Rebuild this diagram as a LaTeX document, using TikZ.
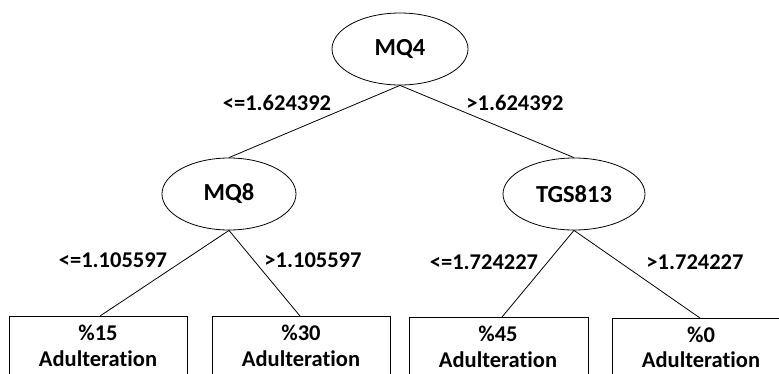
\documentclass[tikz,border=0pt]{standalone}
\usepackage{fontspec}
\setmainfont[Ligatures=NoCommon]{Carlito}
\usetikzlibrary{shapes.geometric}
\tikzset{
  split/.style={draw, ellipse, line width=0.8pt, inner sep=0pt, font=\bfseries\fontsize{24.5}{26}\selectfont},
  leafbox/.style={draw, rectangle, line width=0.8pt, anchor=north west, minimum height=70pt},
  leaftext/.style={font=\bfseries\fontsize{22.5}{24}\selectfont, inner sep=0pt},
  cond/.style={font=\bfseries\fontsize{22.5}{24}\selectfont, inner sep=0pt},
  edge/.style={line width=0.8pt}
}
\begin{document}
\begin{tikzpicture}[x=1pt,y=-1pt]
\useasboundingbox (0,0) rectangle (779,373);
\clip (0,0) rectangle (779,373);
\node[split, minimum width=136pt, minimum height=72pt] (mq4) at (400,49) {MQ4};
\node[split, minimum width=134pt, minimum height=72pt] (mq8) at (229,194) {MQ8};
\node[split, minimum width=142pt, minimum height=72pt] (tgs) at (574,194) {TGS813};
\node[leafbox, minimum width=178pt] (l1) at (9,316) {};
\node[leafbox, minimum width=178pt] (l2) at (212,316) {};
\node[leafbox, minimum width=179pt] (l3) at (409,317) {};
\node[leafbox, minimum width=180pt] (l4) at (612,318) {};
\node[leaftext] (t1a) at (98,333) {\%15};
\node[leaftext] (t1b) at (98,359) {Adulteration};
\node[leaftext] (t2a) at (301,333) {\%30};
\node[leaftext] (t2b) at (301,359) {Adulteration};
\node[leaftext] (t3a) at (498,334) {\%45};
\node[leaftext] (t3b) at (498,360) {Adulteration};
\node[leaftext] (t4a) at (701,335) {\%0};
\node[leaftext] (t4b) at (701,360) {Adulteration};
\draw[edge] (mq4.south) -- (mq8.north);
\draw[edge] (mq4.south) -- (tgs.north);
\draw[edge] (mq8.south) -- (l1.north -| 100,0);
\draw[edge] (mq8.south) -- (l2.north -| 300,0);
\draw[edge] (tgs.south) -- (l3.north -| 502,0);
\draw[edge] (tgs.south) -- (l4.north -| 700,0);
\node[cond] (c1) at (277,103) {<=1.624392};
\node[cond] (c2) at (515,103) {>1.624392};
\node[cond] (c3) at (113,260) {<=1.105597};
\node[cond] (c4) at (313,260) {>1.105597};
\node[cond] (c5) at (484,262) {<=1.724227};
\node[cond] (c6) at (695,262) {>1.724227};
\end{tikzpicture}
\end{document}
